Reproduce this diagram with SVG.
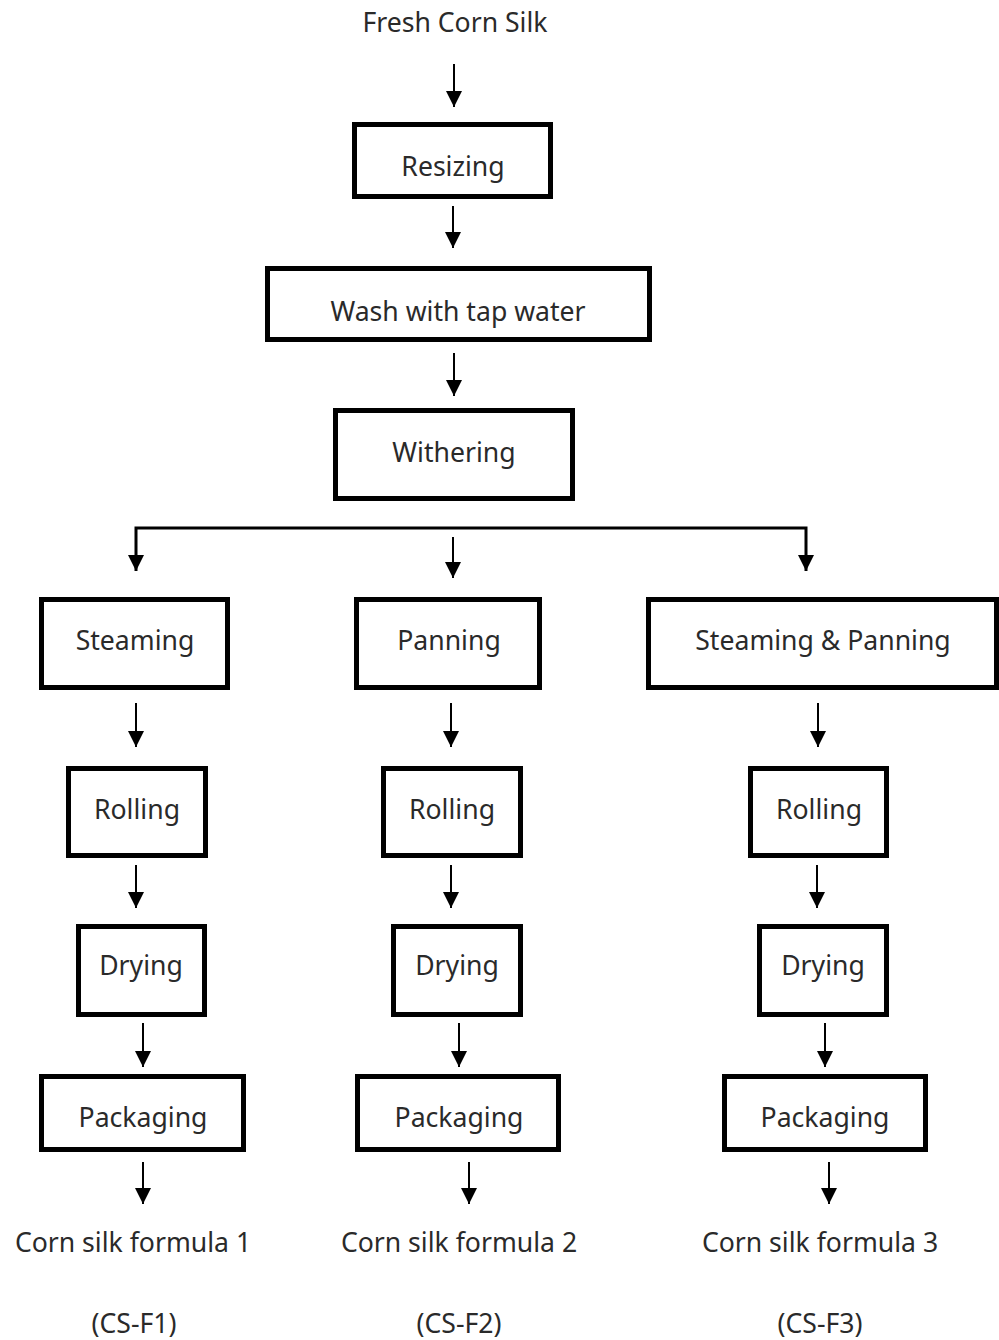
<svg xmlns="http://www.w3.org/2000/svg" width="999" height="1340" viewBox="0 0 999 1340">
  <style>
    .box { fill: #ffffff; stroke: #000000; stroke-width: 5; }
    .lbl { font-family: "Noto Sans", "Open Sans", "DejaVu Sans", sans-serif; font-size: 26.6px; fill: #2a2a2a; text-anchor: middle; }
    .arr { stroke: #000000; stroke-width: 2; fill: none; marker-end: url(#ah); }
    .ln { stroke: #000000; stroke-width: 3; fill: none; }
  </style>
  <defs>
    <marker id="ah" markerUnits="userSpaceOnUse" markerWidth="16" markerHeight="16" refX="16" refY="8" orient="auto">
      <path d="M0,0 L16,8 L0,16 z" fill="#000000"/>
    </marker>
  </defs>
  <rect width="999" height="1340" fill="#ffffff"/>

  <g id="connectors">
    <line class="arr" x1="454" y1="64" x2="454" y2="107"/>
    <line class="arr" x1="453" y1="206" x2="453" y2="248"/>
    <line class="arr" x1="454" y1="353" x2="454" y2="396"/>
    <polyline class="ln" points="136,571 136,528 806,528 806,571" marker-end="url(#ah)"/>
    <line class="arr" x1="136" y1="528" x2="136" y2="571"/>
    <line class="arr" x1="453" y1="537" x2="453" y2="578"/>
    <line class="arr" x1="136" y1="703" x2="136" y2="747"/>
    <line class="arr" x1="451" y1="703" x2="451" y2="747"/>
    <line class="arr" x1="818" y1="703" x2="818" y2="747"/>
    <line class="arr" x1="136" y1="865" x2="136" y2="908"/>
    <line class="arr" x1="451" y1="865" x2="451" y2="908"/>
    <line class="arr" x1="817" y1="865" x2="817" y2="908"/>
    <line class="arr" x1="143" y1="1023" x2="143" y2="1067"/>
    <line class="arr" x1="459" y1="1023" x2="459" y2="1067"/>
    <line class="arr" x1="825" y1="1023" x2="825" y2="1067"/>
    <line class="arr" x1="143" y1="1162" x2="143" y2="1204"/>
    <line class="arr" x1="469" y1="1162" x2="469" y2="1204"/>
    <line class="arr" x1="829" y1="1162" x2="829" y2="1204"/>
  </g>

  <g id="fresh"><text class="lbl" x="455" y="32">Fresh Corn Silk</text></g>
  <g id="resizing"><rect class="box" x="354.5" y="124.5" width="196" height="72"/><text class="lbl" x="453" y="176">Resizing</text></g>
  <g id="wash"><rect class="box" x="267.5" y="268.5" width="382" height="71"/><text class="lbl" x="458" y="321">Wash with tap water</text></g>
  <g id="withering"><rect class="box" x="335.5" y="410.5" width="237" height="88"/><text class="lbl" x="454" y="462">Withering</text></g>

  <g id="steaming"><rect class="box" x="41.5" y="599.5" width="186" height="88"/><text class="lbl" x="135" y="650">Steaming</text></g>
  <g id="panning"><rect class="box" x="356.5" y="599.5" width="183" height="88"/><text class="lbl" x="449" y="650">Panning</text></g>
  <g id="steaming-panning"><rect class="box" x="648.5" y="599.5" width="348" height="88"/><text class="lbl" x="823" y="650">Steaming &amp; Panning</text></g>

  <g id="rolling1"><rect class="box" x="68.5" y="768.5" width="137" height="87"/><text class="lbl" x="137" y="819">Rolling</text></g>
  <g id="rolling2"><rect class="box" x="383.5" y="768.5" width="137" height="87"/><text class="lbl" x="452" y="819">Rolling</text></g>
  <g id="rolling3"><rect class="box" x="750.5" y="768.5" width="136" height="87"/><text class="lbl" x="819" y="819">Rolling</text></g>

  <g id="drying1"><rect class="box" x="78.5" y="926.5" width="126" height="88"/><text class="lbl" x="141" y="975">Drying</text></g>
  <g id="drying2"><rect class="box" x="393.5" y="926.5" width="127" height="88"/><text class="lbl" x="457" y="975">Drying</text></g>
  <g id="drying3"><rect class="box" x="759.5" y="926.5" width="127" height="88"/><text class="lbl" x="823" y="975">Drying</text></g>

  <g id="packaging1"><rect class="box" x="41.5" y="1076.5" width="202" height="73"/><text class="lbl" x="143" y="1127">Packaging</text></g>
  <g id="packaging2"><rect class="box" x="357.5" y="1076.5" width="201" height="73"/><text class="lbl" x="459" y="1127">Packaging</text></g>
  <g id="packaging3"><rect class="box" x="724.5" y="1076.5" width="201" height="73"/><text class="lbl" x="825" y="1127">Packaging</text></g>

  <g id="out1"><text class="lbl" x="133" y="1252">Corn silk formula 1</text><text class="lbl" x="134" y="1333">(CS-F1)</text></g>
  <g id="out2"><text class="lbl" x="459" y="1252">Corn silk formula 2</text><text class="lbl" x="459" y="1333">(CS-F2)</text></g>
  <g id="out3"><text class="lbl" x="820" y="1252">Corn silk formula 3</text><text class="lbl" x="820" y="1333">(CS-F3)</text></g>
</svg>
